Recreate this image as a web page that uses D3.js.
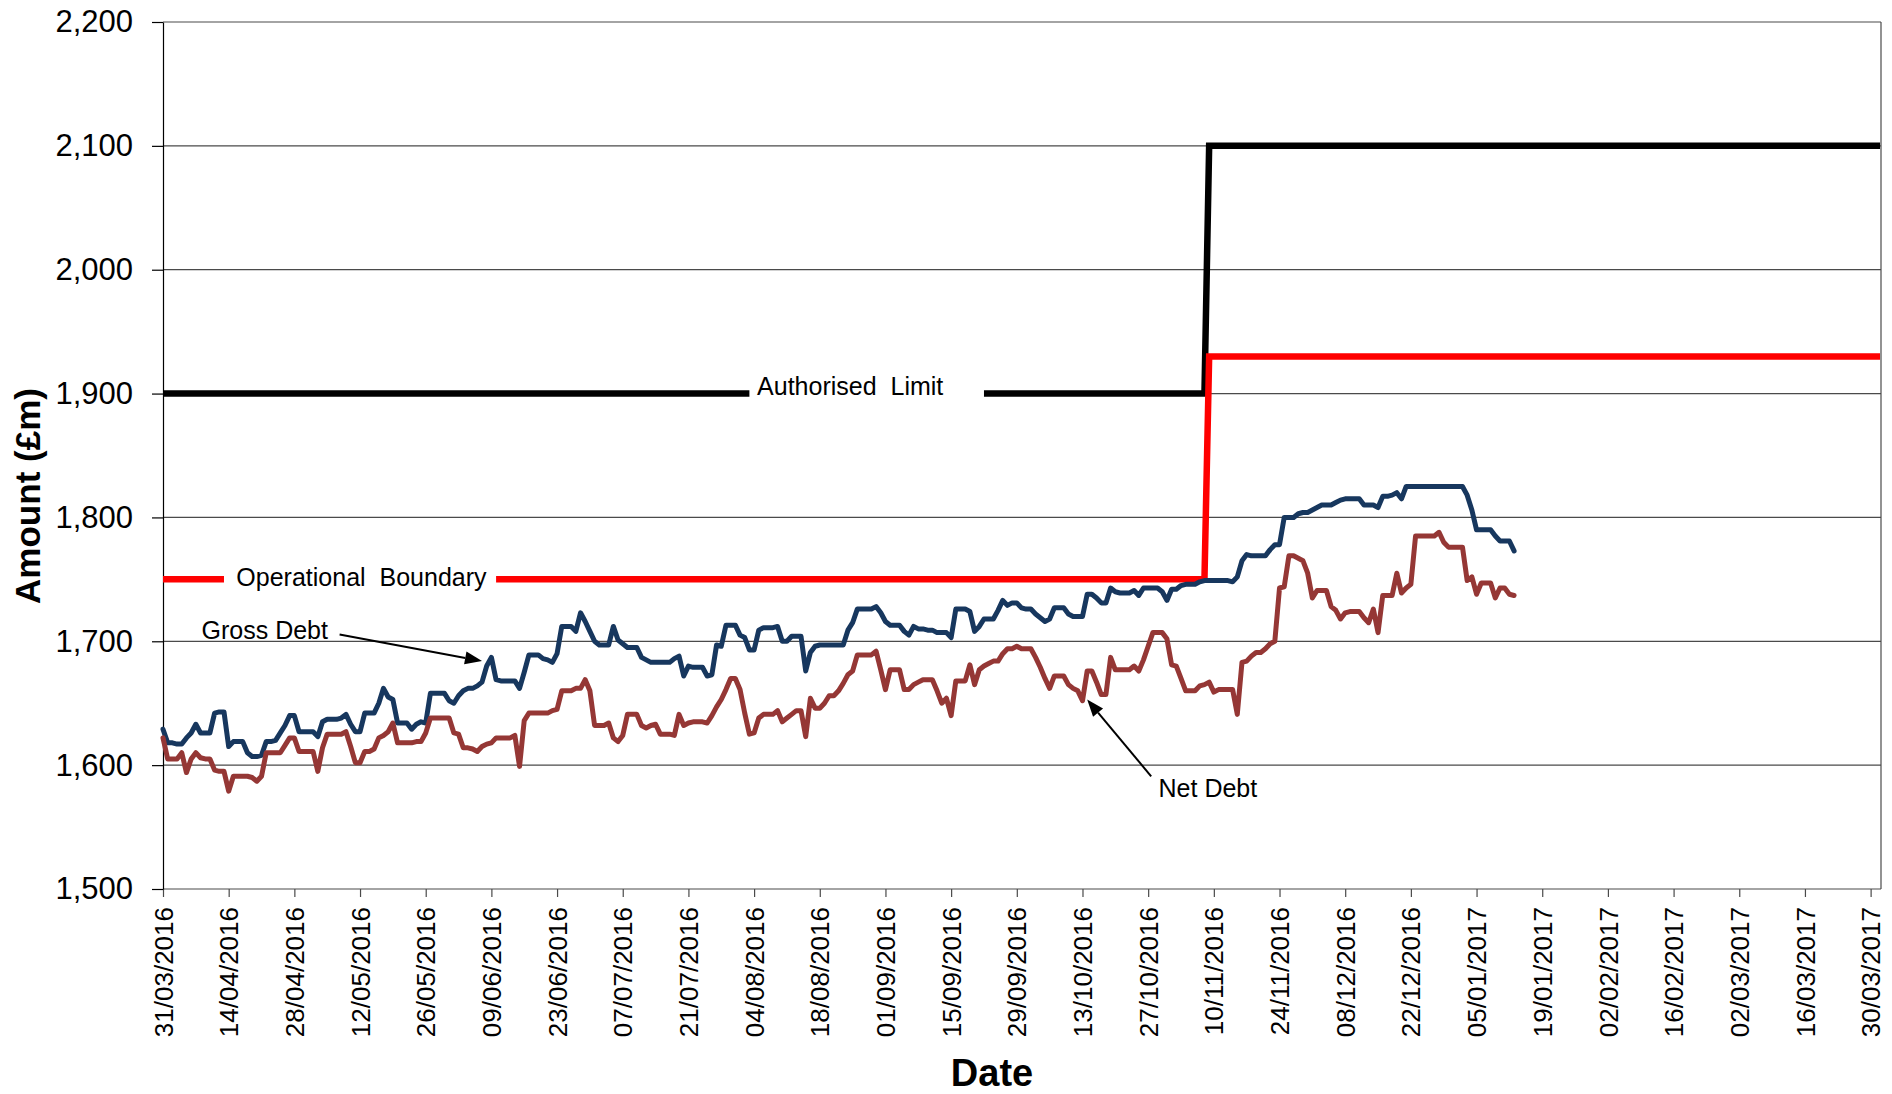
<!DOCTYPE html>
<html>
<head>
<meta charset="utf-8">
<script src="https://cdn.jsdelivr.net/npm/d3@7"></script>
<style>
  body { margin: 0; background: #ffffff; }
  svg { display: block; font-family: "Liberation Sans", Arial, sans-serif; }
</style>
</head>
<body>
<svg id="chart" width="1892" height="1094"></svg>
<script>
// Daily balances (£m) starting 31/03/2016, one value per calendar day
const seriesStart = "31/03/2016";

const grossDebt = [
  1629,1618,1618,1617,1617,1622,1626,1633,1626,1626,
  1626,1642,1643,1643,1615,1619,1619,1619,1610,1607,
  1607,1608,1619,1619,1620,1626,1632,1640,1640,1627,
  1627,1627,1627,1623,1635,1637,1637,1637,1638,1641,
  1633,1627,1627,1642,1642,1642,1650,1662,1655,1653,
  1634,1634,1634,1629,1633,1635,1634,1658,1658,1658,
  1658,1652,1650,1656,1660,1662,1662,1664,1667,1680,
  1687,1669,1668,1668,1668,1668,1662,1675,1689,1689,
  1689,1686,1685,1683,1690,1712,1712,1712,1708,1723,
  1716,1708,1700,1697,1697,1697,1712,1701,1698,1695,
  1695,1695,1687,1685,1683,1683,1683,1683,1683,1686,
  1688,1672,1680,1679,1679,1679,1672,1673,1697,1696,
  1713,1713,1713,1705,1703,1693,1693,1709,1711,1711,
  1711,1712,1700,1700,1704,1704,1704,1676,1691,1696,
  1697,1697,1697,1697,1697,1697,1709,1715,1726,1726,
  1726,1726,1728,1723,1716,1713,1713,1713,1708,1705,
  1712,1710,1710,1709,1709,1707,1707,1707,1703,1726,
  1726,1726,1724,1708,1712,1718,1718,1718,1725,1733,
  1729,1731,1731,1727,1726,1726,1722,1719,1716,1718,
  1727,1727,1727,1722,1720,1720,1720,1738,1738,1735,
  1731,1731,1743,1740,1739,1739,1739,1741,1737,1743,
  1743,1743,1743,1740,1733,1742,1742,1745,1746,1746,
  1746,1748,1749,1749,1749,1749,1749,1749,1748,1752,
  1765,1770,1769,1769,1769,1769,1774,1778,1778,1800,
  1800,1800,1803,1804,1804,1806,1808,1810,1810,1810,
  1812,1814,1815,1815,1815,1815,1810,1810,1810,1808,
  1817,1817,1818,1820,1815,1825,1825,1825,1825,1825,
  1825,1825,1825,1825,1825,1825,1825,1825,1818,1806,
  1790,1790,1790,1790,1785,1781,1781,1781,1773
];

const netDebt = [
  1622,1605,1605,1605,1610,1594,1605,1610,1606,1605,
  1605,1596,1595,1595,1579,1591,1591,1591,1591,1590,
  1587,1591,1610,1610,1610,1610,1616,1622,1622,1611,
  1611,1611,1611,1595,1614,1625,1625,1625,1625,1627,
  1615,1602,1602,1611,1611,1613,1622,1624,1627,1634,
  1618,1618,1618,1618,1619,1619,1626,1638,1638,1638,
  1638,1638,1626,1625,1614,1614,1613,1611,1615,1617,
  1618,1622,1622,1622,1622,1624,1599,1636,1642,1642,
  1642,1642,1642,1644,1645,1660,1660,1660,1662,1662,
  1669,1660,1632,1632,1632,1634,1622,1619,1624,1641,
  1641,1641,1632,1630,1632,1633,1625,1625,1625,1624,
  1641,1632,1634,1635,1635,1635,1634,1640,1647,1653,
  1661,1670,1670,1661,1642,1625,1626,1638,1641,1641,
  1641,1644,1635,1638,1641,1644,1644,1623,1654,1646,
  1646,1650,1656,1656,1660,1666,1673,1676,1689,1689,
  1689,1689,1692,1677,1661,1677,1677,1677,1661,1661,
  1665,1667,1669,1669,1669,1660,1650,1654,1640,1668,
  1668,1668,1681,1665,1677,1680,1682,1684,1684,1690,
  1694,1694,1696,1694,1694,1694,1687,1679,1670,1662,
  1672,1672,1672,1665,1662,1660,1652,1676,1676,1667,
  1657,1657,1687,1677,1677,1677,1677,1680,1676,1685,
  1696,1707,1707,1707,1702,1681,1680,1670,1660,1660,
  1660,1664,1665,1667,1659,1661,1661,1661,1661,1641,
  1683,1684,1688,1691,1691,1694,1698,1700,1743,1744,
  1769,1769,1767,1765,1755,1735,1741,1741,1741,1728,
  1725,1718,1723,1724,1724,1724,1719,1715,1726,1707,
  1737,1737,1737,1755,1739,1743,1746,1785,1785,1785,
  1785,1785,1788,1780,1776,1776,1776,1776,1749,1752,
  1738,1747,1747,1747,1735,1743,1743,1738,1737
];

// Prudential limits (step change in November 2016)
const limitDates = ["31/03/2016", "08/11/2016", "09/11/2016", "01/04/2017"];
const authorisedLimit = [1900, 1900, 2100, 2100];
const operationalBoundary = [1750, 1750, 1930, 1930];

// Axis ticks
const dateTicks = [
  "31/03/2016","14/04/2016","28/04/2016","12/05/2016","26/05/2016","09/06/2016",
  "23/06/2016","07/07/2016","21/07/2016","04/08/2016","18/08/2016","01/09/2016",
  "15/09/2016","29/09/2016","13/10/2016","27/10/2016","10/11/2016","24/11/2016",
  "08/12/2016","22/12/2016","05/01/2017","19/01/2017","02/02/2017","16/02/2017",
  "02/03/2017","16/03/2017","30/03/2017"
];
const amountTicks = [1500, 1600, 1700, 1800, 1900, 2000, 2100, 2200];

// ---------------------------------------------------------------------------
const parse = d3.utcParse("%d/%m/%Y");
const fmtDate = d3.utcFormat("%d/%m/%Y");
const svg = d3.select("#chart");

const plot = { left: 163, right: 1880, top: 22, bottom: 889, border: 1881 };

const x = d3.scaleUtc()
  .domain([parse("31/03/2016"), parse("01/04/2017")])
  .range([plot.left, plot.right]);
const y = d3.scaleLinear()
  .domain([1500, 2200])
  .range([plot.bottom, plot.top]);

// Horizontal gridlines
svg.append("g")
  .selectAll("line")
  .data(amountTicks.filter(v => v > 1500))
  .join("line")
  .attr("x1", plot.left).attr("x2", plot.border)
  .attr("y1", d => y(d)).attr("y2", d => y(d))
  .attr("stroke", "#4a4a4a").attr("stroke-width", 1.2);

// Right-hand plot border
svg.append("line")
  .attr("x1", plot.border).attr("x2", plot.border)
  .attr("y1", plot.top).attr("y2", plot.bottom)
  .attr("stroke", "#4a4a4a").attr("stroke-width", 1.2);

// X axis
const xAxis = svg.append("g")
  .attr("transform", `translate(0,${plot.bottom})`)
  .call(d3.axisBottom(x)
    .tickValues(dateTicks.map(parse))
    .tickFormat(fmtDate)
    .tickSize(8)
    .tickSizeOuter(0));
xAxis.select(".domain").attr("stroke", "#4a4a4a").attr("stroke-width", 1.2)
  .attr("d", `M${plot.left},0H${plot.border}`);
xAxis.selectAll(".tick line").attr("stroke", "#4a4a4a").attr("stroke-width", 1.2);
xAxis.selectAll(".tick text")
  .attr("transform", "rotate(-90)")
  .attr("x", -18).attr("y", 0).attr("dy", "0.35em")
  .style("text-anchor", "end")
  .style("font-size", "26px")
  .attr("fill", "#000");

// Y axis
const yAxis = svg.append("g")
  .attr("transform", `translate(${plot.left},0)`)
  .call(d3.axisLeft(y)
    .tickValues(amountTicks)
    .tickFormat(d3.format(","))
    .tickSize(11)
    .tickPadding(19)
    .tickSizeOuter(0));
yAxis.select(".domain").attr("stroke", "#000").attr("stroke-width", 1.2);
yAxis.selectAll(".tick line").attr("stroke", "#000").attr("stroke-width", 1.2);
yAxis.selectAll(".tick text")
  .style("font-size", "31px")
  .attr("fill", "#000");

// Axis titles
svg.append("text")
  .attr("transform", "translate(40,496) rotate(-90)")
  .attr("text-anchor", "middle")
  .style("font-size", "35px").style("font-weight", "bold")
  .text("Amount (£m)");
svg.append("text")
  .attr("x", 992).attr("y", 1086)
  .attr("text-anchor", "middle")
  .style("font-size", "38px").style("font-weight", "bold")
  .text("Date");

// Series rows
const start = parse(seriesStart);
const toRows = values => values.map((v, i) => ({ date: d3.utcDay.offset(start, i), value: v }));
const limitRows = values => values.map((v, i) => ({ date: parse(limitDates[i]), value: v }));

const line = d3.line().x(d => x(d.date)).y(d => y(d.value));

// Limit lines
svg.append("path")
  .datum(limitRows(authorisedLimit))
  .attr("d", line)
  .attr("fill", "none").attr("stroke", "#000000")
  .attr("stroke-width", 6.5).attr("stroke-linejoin", "miter");
svg.append("path")
  .datum(limitRows(operationalBoundary))
  .attr("d", line)
  .attr("fill", "none").attr("stroke", "#ff0000")
  .attr("stroke-width", 6.5).attr("stroke-linejoin", "miter");

// Inline labels sitting in a white break of each limit line
const limitLabels = [
  { text: "Authorised  Limit", from: "03/08/2016", to: "22/09/2016", at: "04/08/2016", level: 1900, baseline: 1899.2 },
  { text: "Operational  Boundary", from: "13/04/2016", to: "10/06/2016", at: "15/04/2016", level: 1750, baseline: 1744.5 }
];
const labelG = svg.append("g");
limitLabels.forEach(l => {
  const x0 = x(parse(l.from)), x1 = x(parse(l.to));
  labelG.append("rect")
    .attr("x", x0).attr("width", x1 - x0)
    .attr("y", y(l.level) - 6).attr("height", 12)
    .attr("fill", "#ffffff");
  labelG.append("text")
    .attr("x", x(parse(l.at)) + 3)
    .attr("y", y(l.baseline))
    .style("font-size", "25px")
    .style("white-space", "pre")
    .attr("fill", "#000")
    .text(l.text);
});

// Debt series
svg.append("path")
  .datum(toRows(grossDebt))
  .attr("d", line)
  .attr("fill", "none").attr("stroke", "#17375e")
  .attr("stroke-width", 5).attr("stroke-linejoin", "round").attr("stroke-linecap", "round");
svg.append("path")
  .datum(toRows(netDebt))
  .attr("d", line)
  .attr("fill", "none").attr("stroke", "#953735")
  .attr("stroke-width", 5).attr("stroke-linejoin", "round").attr("stroke-linecap", "round");

// Callouts with arrows pointing at each debt line
const callouts = [
  { text: "Gross Debt", textAt: "08/04/2016", textValue: 1701.5, anchor: "start",
    tail: ["07/05/2016", 1705.5], tip: ["07/06/2016", 1684] },
  { text: "Net Debt", textAt: "29/10/2016", textValue: 1574, anchor: "start",
    tail: ["27/10/2016", 1591], tip: ["14/10/2016", 1653] }
];
const calloutG = svg.append("g");
callouts.forEach(c => {
  const tx = x(parse(c.tail[0])) + 3, ty = y(c.tail[1]);
  const px = x(parse(c.tip[0])), py = y(c.tip[1]);
  const ang = Math.atan2(py - ty, px - tx);
  const headLen = 17, headHalf = 6.5;
  const bx = px - headLen * Math.cos(ang), by = py - headLen * Math.sin(ang);
  calloutG.append("line")
    .attr("x1", tx).attr("y1", ty).attr("x2", bx).attr("y2", by)
    .attr("stroke", "#000").attr("stroke-width", 2);
  const nx = -Math.sin(ang), ny = Math.cos(ang);
  calloutG.append("path")
    .attr("d", `M${px},${py}L${bx + nx * headHalf},${by + ny * headHalf}L${bx - nx * headHalf},${by - ny * headHalf}Z`)
    .attr("fill", "#000");
  calloutG.append("text")
    .attr("x", x(parse(c.textAt)) + 1)
    .attr("y", y(c.textValue))
    .attr("text-anchor", c.anchor)
    .style("font-size", "25px")
    .attr("fill", "#000")
    .text(c.text);
});
</script>
</body>
</html>
